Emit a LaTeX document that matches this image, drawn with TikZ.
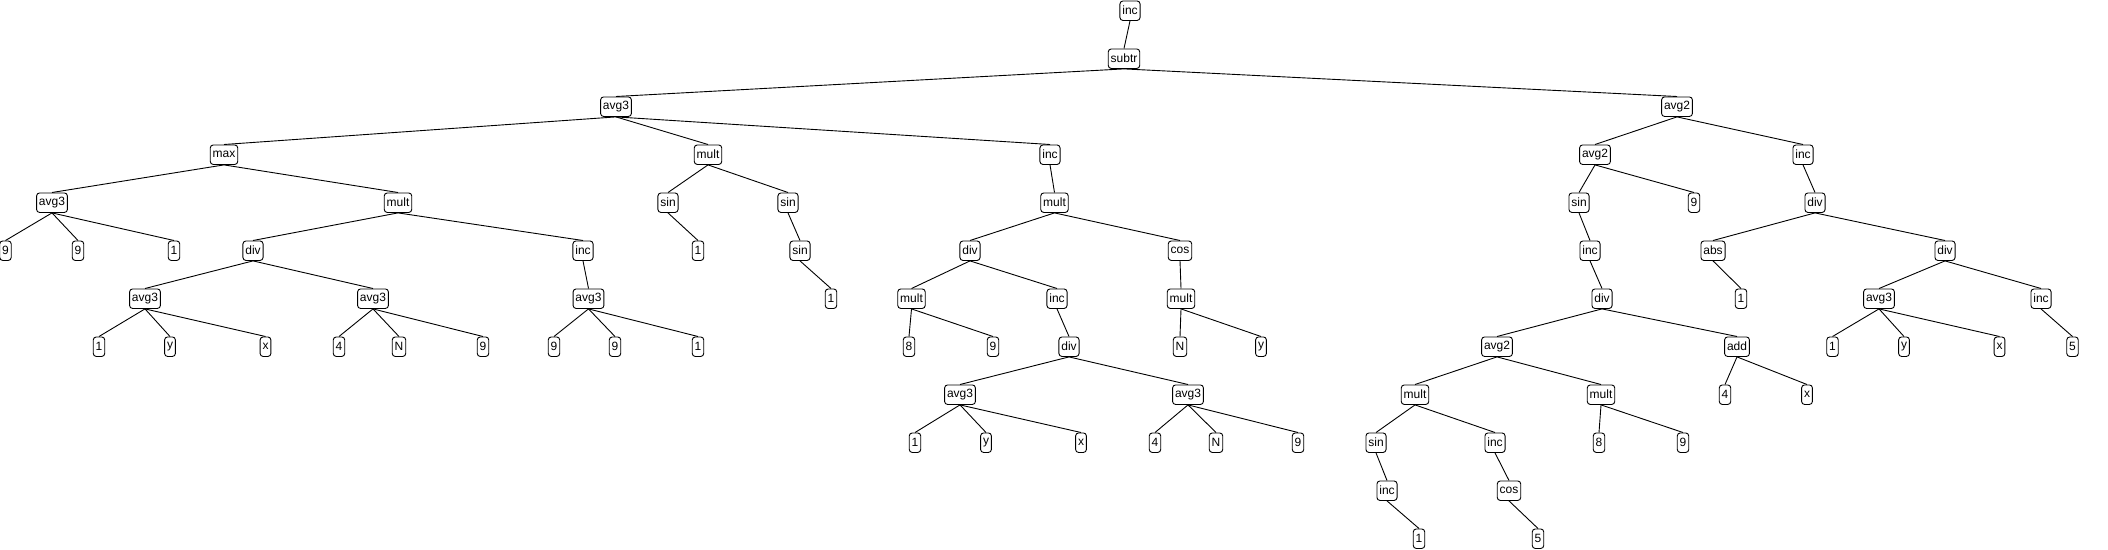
\documentclass[tikz,border=0pt]{standalone}
\usepackage{fontspec}
\setmainfont{Liberation Sans}
\begin{document}
\begin{tikzpicture}[x=1pt,y=-1pt,
  box/.style={draw, line width=0.9pt, rounded corners=3pt, minimum height=19.5pt,
    inner xsep=2.4pt, inner ysep=0pt, font=\fontsize{12}{14}\selectfont, fill=white},
  edge/.style={line width=0.9pt}]
\useasboundingbox (0,0) rectangle (2108,549);
\newcommand\tn[4]{\node[box] (#1) at (#2,{10.7+48*#3}) {#4};}
% level 0-1
\tn{a0}{1130}{0}{inc}
\tn{a1}{1124}{1}{subtr}
% level 2
\tn{b1}{616}{2}{avg3}
\tn{b2}{1677}{2}{avg2}
% level 3
\tn{c1}{224}{3}{max}
\tn{c2}{708}{3}{mult}
\tn{c3}{1050}{3}{inc}
\tn{c4}{1595}{3}{avg2}
\tn{c5}{1803}{3}{inc}
% level 4
\tn{d1}{52}{4}{avg3}
\tn{d2}{398}{4}{mult}
\tn{d3}{668}{4}{sin}
\tn{d4}{788}{4}{sin}
\tn{d5}{1054.5}{4}{mult}
\tn{d6}{1579}{4}{sin}
\tn{d7}{1694}{4}{9}
\tn{d8}{1815}{4}{div}
% level 5
\tn{e1}{5.5}{5}{9}
\tn{e2}{78}{5}{9}
\tn{e3}{174}{5}{1}
\tn{e4}{253}{5}{div}
\tn{e5}{583}{5}{inc}
\tn{e6}{698}{5}{1}
\tn{e7}{800}{5}{sin}
\tn{e8}{970}{5}{div}
\tn{e9}{1180}{5}{cos}
\tn{e10}{1590}{5}{inc}
\tn{e11}{1713}{5}{abs}
\tn{e12}{1945}{5}{div}
% level 6
\tn{f1}{145}{6}{avg3}
\tn{f2}{373}{6}{avg3}
\tn{f3}{588.5}{6}{avg3}
\tn{f4}{831}{6}{1}
\tn{f5}{911.5}{6}{mult}
\tn{f6}{1057}{6}{inc}
\tn{f7}{1181}{6}{mult}
\tn{f8}{1602}{6}{div}
\tn{f9}{1741}{6}{1}
\tn{f10}{1879}{6}{avg3}
\tn{f11}{2041}{6}{inc}
% level 7
\tn{g1}{99}{7}{1}
\tn{g2}{170}{7}{y}
\tn{g3}{265.5}{7}{x}
\tn{g4}{339}{7}{4}
\tn{g5}{399}{7}{N}
\tn{g6}{483}{7}{9}
\tn{g7}{554}{7}{9}
\tn{g8}{615}{7}{9}
\tn{g9}{698}{7}{1}
\tn{g10}{909}{7}{8}
\tn{g11}{993}{7}{9}
\tn{g12}{1069}{7}{div}
\tn{g13}{1180}{7}{N}
\tn{g14}{1261}{7}{y}
\tn{g15}{1497}{7}{avg2}
\tn{g16}{1737}{7}{add}
\tn{g17}{1832.5}{7}{1}
\tn{g18}{1904}{7}{y}
\tn{g19}{1999.5}{7}{x}
\tn{g20}{2072.5}{7}{5}
% level 8
\tn{h1}{960}{8}{avg3}
\tn{h2}{1188}{8}{avg3}
\tn{h3}{1415}{8}{mult}
\tn{h4}{1601}{8}{mult}
\tn{h5}{1725}{8}{4}
\tn{h6}{1807}{8}{x}
% level 9
\tn{i1}{915}{9}{1}
\tn{i2}{986}{9}{y}
\tn{i3}{1081}{9}{x}
\tn{i4}{1155}{9}{4}
\tn{i5}{1216}{9}{N}
\tn{i6}{1298}{9}{9}
\tn{i7}{1376}{9}{sin}
\tn{i8}{1495}{9}{inc}
\tn{i9}{1599}{9}{8}
\tn{i10}{1683}{9}{9}
% level 10-11
\tn{j1}{1387}{10}{inc}
\tn{j2}{1509}{10}{cos}
\tn{k1}{1419}{11}{1}
\tn{k2}{1538}{11}{5}
% edges
\foreach \p/\c in {a0/a1, a1/b1, a1/b2,
  b1/c1, b1/c2, b1/c3, b2/c4, b2/c5,
  c1/d1, c1/d2, c2/d3, c2/d4, c3/d5, c4/d6, c4/d7, c5/d8,
  d1/e1, d1/e2, d1/e3, d2/e4, d2/e5, d3/e6, d4/e7, d5/e8, d5/e9, d6/e10, d8/e11, d8/e12,
  e4/f1, e4/f2, e5/f3, e7/f4, e8/f5, e8/f6, e9/f7, e10/f8, e11/f9, e12/f10, e12/f11,
  f1/g1, f1/g2, f1/g3, f2/g4, f2/g5, f2/g6, f3/g7, f3/g8, f3/g9,
  f5/g10, f5/g11, f6/g12, f7/g13, f7/g14, f8/g15, f8/g16,
  f10/g17, f10/g18, f10/g19, f11/g20,
  g12/h1, g12/h2, g15/h3, g15/h4, g16/h5, g16/h6,
  h1/i1, h1/i2, h1/i3, h2/i4, h2/i5, h2/i6, h3/i7, h3/i8, h4/i9, h4/i10,
  i7/j1, i8/j2, j1/k1, j2/k2}
  \draw[edge] (\p.south) -- (\c.north);
\end{tikzpicture}
\end{document}
